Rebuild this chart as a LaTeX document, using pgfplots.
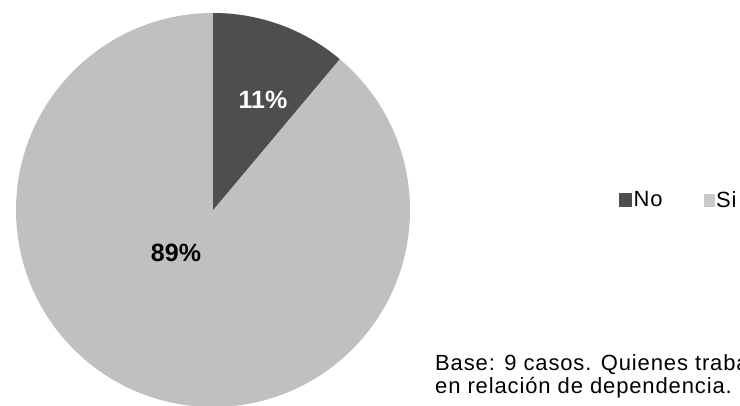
\documentclass[border=0pt]{standalone}
\usepackage{pgfplots}
\pgfplotsset{compat=1.18}
\usepackage{pgfplotstable}
\usepackage{fontspec}
\setmainfont{Liberation Sans}
\newfontfamily\spaced[LetterSpace=4]{Liberation Sans}

\definecolor{noCol}{HTML}{4E4E4E}
\definecolor{siCol}{HTML}{C0C0C0}

% base: 9 cases
\pgfplotstableread{
label count pct
No    1     11
Si    8     89
}\piedata

\pgfplotstablegetelem{0}{count}\of\piedata \let\cNo\pgfplotsretval
\pgfplotstablegetelem{1}{count}\of\piedata \let\cSi\pgfplotsretval
\pgfmathsetmacro\aEnd{90-360*\cNo/(\cNo+\cSi)}

\begin{document}
\begin{tikzpicture}
\useasboundingbox (0,0) rectangle (740pt,406pt);
\clip (0,0) rectangle (740pt,406pt);
\begin{axis}[
  scale only axis,
  width=740pt, height=406pt,
  xmin=0, xmax=740, ymin=0, ymax=406,
  enlargelimits=false,
  hide axis,
  clip=false,
  legend columns=2,
  legend style={at={(axis cs:616,206)}, anchor=west, draw=none, fill=none,
    font=\spaced\fontsize{22}{24}\selectfont,
    /tikz/every even column/.append style={column sep=39pt}},
]
\addlegendimage{legend image code/.code={\fill[noCol] (0pt,-6pt) rectangle (12pt,7pt);}}
\addlegendentry{No}
\addlegendimage{legend image code/.code={\fill[siCol!85!white] (0pt,-6pt) rectangle (10pt,6pt);}}
\addlegendentry{Si}

% pie: centre (213,196), radius 197
\fill[siCol] (axis cs:213,196) circle[radius=197pt];
\fill[noCol] (axis cs:213,196) -- (axis cs:213,393)
  arc[start angle=90, end angle=\aEnd, radius=197pt] -- cycle;

\node[text=white, font=\bfseries\fontsize{25}{25}\selectfont] at (axis cs:263,306) {11\%};
\node[font=\bfseries\fontsize{25}{25}\selectfont] at (axis cs:176,153) {89\%};

\node[anchor=base west, inner sep=0, font=\spaced\fontsize{22}{24}\selectfont] at (axis cs:435,35) {Base: 9 casos. Quienes trabajan};
\node[anchor=base west, inner sep=0, font=\spaced\fontsize{22}{24}\selectfont] at (axis cs:435,12) {en relación de dependencia.};
\end{axis}
\end{tikzpicture}
\end{document}
